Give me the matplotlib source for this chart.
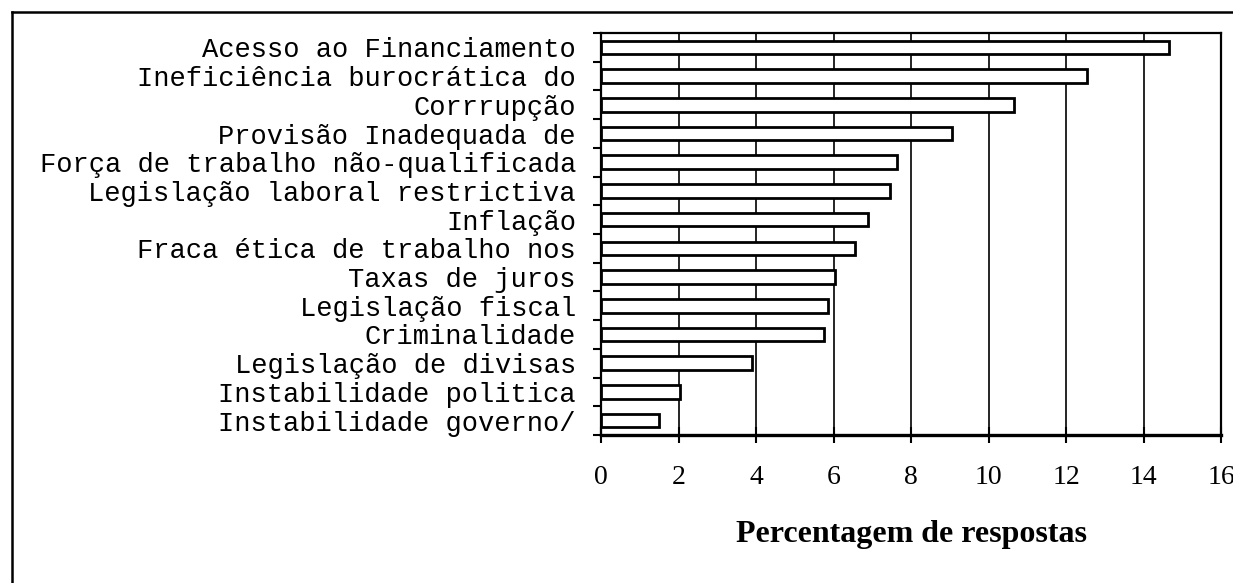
import matplotlib
matplotlib.use('Agg')
import matplotlib.pyplot as plt
from matplotlib.lines import Line2D
import numpy as np

categories = [
    'Acesso ao Financiamento',
    'Ineficiência burocrática do',
    'Corrrupção',
    'Provisão Inadequada de',
    'Força de trabalho não-qualificada',
    'Legislação laboral restrictiva',
    'Inflação',
    'Fraca ética de trabalho nos',
    'Taxas de juros',
    'Legislação fiscal',
    'Criminalidade',
    'Legislação de divisas',
    'Instabilidade politica',
    'Instabilidade governo/',
]
values = [14.65, 12.55, 10.65, 9.05, 7.65, 7.45, 6.9, 6.55, 6.05, 5.85, 5.75, 3.9, 2.05, 1.5]
xticks = [0, 2, 4, 6, 8, 10, 12, 14, 16]

W, H = 1233, 583
fig = plt.figure(figsize=(W / 100, H / 100), dpi=100)
ax = fig.add_axes([601 / W, 1 - 435 / H, 620 / W, 402 / H])

pos = np.arange(len(categories))
ax.barh(pos, values, height=0.47, color='white', edgecolor='black', linewidth=2.0, zorder=3)

ax.set_xlim(0, 16)
ax.set_ylim(len(categories) - 0.5, -0.5)
ax.set_xticks(xticks)
ax.set_xticklabels([str(t) for t in xticks], fontfamily='Liberation Serif', fontsize=20)
ax.tick_params(axis='x', direction='inout', length=11, width=1.5, pad=16)

# category ticks sit on the boundaries, labels in the middle
ax.set_yticks(np.arange(len(categories) + 1) - 0.5)
ax.set_yticklabels([])
ax.tick_params(axis='y', which='major', direction='out', length=6, width=1.5)
ax.set_yticks(pos, minor=True)
ax.set_yticklabels(categories, minor=True, fontfamily='Liberation Mono', fontsize=19.5)
ax.tick_params(axis='y', which='minor', length=0, pad=18)

ax.grid(axis='x', color='black', linewidth=1.2, zorder=0)
ax.set_axisbelow(True)
for s in ['left', 'top', 'right']:
    ax.spines[s].set_linewidth(1.6)
ax.spines['bottom'].set_linewidth(2.4)

ax.set_xlabel('Percentagem de respostas', fontfamily='Liberation Serif', fontsize=23,
              fontweight='bold', labelpad=22)

# frame of the scanned page
fig.add_artist(Line2D([12 / W, 1], [1 - 12 / H, 1 - 12 / H], color='black', linewidth=1.8))
fig.add_artist(Line2D([12 / W, 12 / W], [0, 1 - 12 / H], color='black', linewidth=1.8))

fig.savefig('out.png', dpi=100)
